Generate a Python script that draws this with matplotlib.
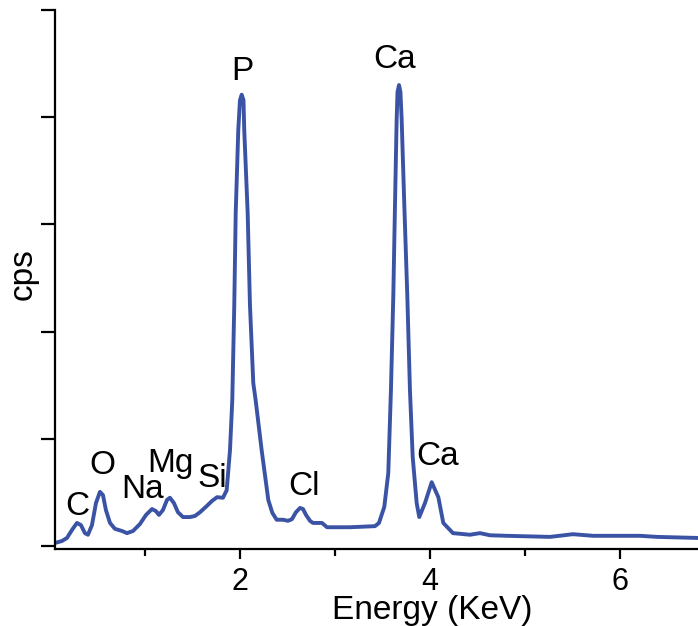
import matplotlib
matplotlib.use("Agg")
import matplotlib.pyplot as plt

plt.rcParams['font.family'] = ['Liberation Sans', 'DejaVu Sans']

# spectrum: energy (keV) and counts (arbitrary cps)
energy = [0.053, 0.126, 0.179, 0.232, 0.284, 0.326, 0.368, 0.400, 0.442, 0.484,
          0.526, 0.558, 0.589, 0.632, 0.684, 0.758, 0.811, 0.874, 0.947, 1.011,
          1.074, 1.116, 1.147, 1.189, 1.232, 1.263, 1.305, 1.347, 1.400, 1.474,
          1.526, 1.579, 1.653, 1.705, 1.758, 1.821, 1.860, 1.895, 1.919, 1.940,
          1.955, 1.982, 2.000, 2.018, 2.037, 2.045, 2.081, 2.105, 2.140, 2.165,
          2.228, 2.298, 2.340, 2.386, 2.453, 2.505, 2.547, 2.589, 2.632, 2.663,
          2.695, 2.737, 2.768, 2.821, 2.863, 2.916, 2.979, 3.158, 3.421, 3.463,
          3.519, 3.561, 3.589, 3.614, 3.632, 3.649, 3.658, 3.674, 3.689, 3.702,
          3.729, 3.761, 3.789, 3.818, 3.860, 3.887, 3.947, 4.018, 4.088, 4.140,
          4.242, 4.421, 4.526, 4.632, 4.811, 5.263, 5.505, 5.716, 6.211, 6.389,
          6.821]
cps = [5.6, 9.3, 15, 30, 43, 39, 24, 21, 39, 80,
       101, 95, 67, 43, 32, 28, 24, 28, 41, 58,
       69, 65, 58, 67, 86, 90, 80, 63, 54, 54,
       56, 63, 75, 84, 91, 90, 104, 179, 272, 450,
       621, 776, 832, 842, 832, 776, 621, 450, 304, 272,
       179, 86, 62, 49, 49, 47, 50, 63, 71, 69,
       58, 47, 43, 43, 43, 35, 35, 35, 37, 43,
       73, 136, 291, 468, 640, 795, 847, 860, 847, 795,
       640, 468, 291, 166, 80, 54, 80, 119, 91, 43,
       24, 21, 24, 20, 19, 17, 22, 19, 19, 17,
       15]

# peak labels: text, energy and cps of the text baseline
labels = ['C', 'O', 'Na', 'Mg', 'Si', 'P', 'Cl', 'Ca', 'Ca']
label_e = [0.284, 0.547, 0.979, 1.263, 1.705, 2.02, 2.674, 3.632, 4.084]
label_y = [58, 134, 90, 138, 110, 870, 95, 892, 151]

fig = plt.figure(figsize=(6.98, 6.26), dpi=100)
ax = fig.add_axes([55 / 698, 77 / 626, 643 / 698, 539 / 626])

ax.plot(energy, cps, color='#3b53a5', lw=2.8,
        solid_joinstyle='round', solid_capstyle='round')

for txt, e, y in zip(labels, label_e, label_y):
    ax.text(e, y, txt, fontsize=24, ha='center', va='baseline')

ax.set_xlim(0.053, 6.821)
ax.set_ylim(-5.6, 1000)
ax.set_xticks([2, 4, 6])
ax.set_xticks([1, 3, 5], minor=True)
ax.set_yticks([0, 200, 400, 600, 800, 1000])
ax.set_yticklabels([])
ax.tick_params(axis='x', which='major', length=7, width=1.6, labelsize=22, pad=6)
ax.tick_params(axis='x', which='minor', length=5, width=1.6)
ax.tick_params(axis='y', length=10, width=1.6)

for side in ['top', 'right']:
    ax.spines[side].set_visible(False)
for side in ['left', 'bottom']:
    ax.spines[side].set_linewidth(1.6)

ax.set_xlabel('Energy (KeV)', fontsize=24)
ax.xaxis.set_label_coords((432 - 55) / 643, -0.085)
ax.set_ylabel('cps', fontsize=24)
ax.yaxis.set_label_coords(-0.025, 0.51)

fig.savefig('out.png', dpi=100)
